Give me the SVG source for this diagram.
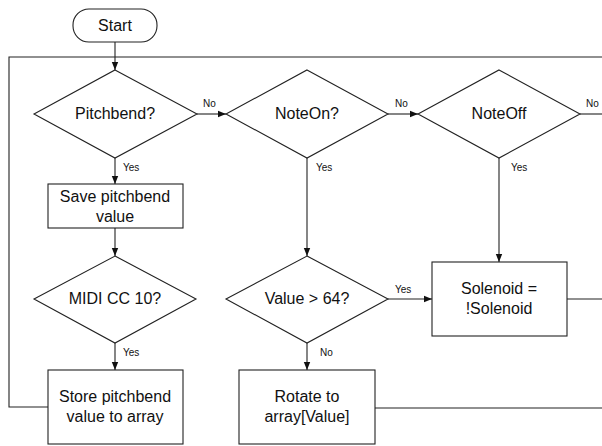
<svg xmlns="http://www.w3.org/2000/svg" width="602" height="446" viewBox="0 0 602 446">
<style>
.s{fill:#fff;stroke:#222;stroke-width:1.1}
.c{fill:none;stroke:#222;stroke-width:1.1}
.t{font-family:"Liberation Sans",Arial,sans-serif;font-size:16px;fill:#111;text-anchor:middle}
.l{font-family:"Liberation Sans",Arial,sans-serif;font-size:10px;fill:#111}
</style>
<defs>
<marker id="a" viewBox="0 0 10 10" refX="10" refY="5" markerWidth="8" markerHeight="8" markerUnits="userSpaceOnUse" orient="auto">
<path d="M0,1 L10,5 L0,9 z" fill="#111"/>
</marker>
</defs>
<rect width="602" height="446" fill="#fff"/>
<g id="connectors">
<path class="c" d="M115,42 V70" marker-end="url(#a)"/>
<path class="c" d="M197,114 H226" marker-end="url(#a)"/>
<path class="c" d="M388,114 H418" marker-end="url(#a)"/>
<path class="c" d="M580,114 H602"/>
<path class="c" d="M115,158 V184" marker-end="url(#a)"/>
<path class="c" d="M115,228 V256" marker-end="url(#a)"/>
<path class="c" d="M115,343 V370" marker-end="url(#a)"/>
<path class="c" d="M307,158 V256" marker-end="url(#a)"/>
<path class="c" d="M499,158 V262" marker-end="url(#a)"/>
<path class="c" d="M388,299 H432" marker-end="url(#a)"/>
<path class="c" d="M307,343 V370" marker-end="url(#a)"/>
<path class="c" d="M567,299 H602"/>
<path class="c" d="M375,408 H602"/>
<path class="c" d="M48,407 H9 V57 H602"/>
<text class="l" x="203" y="107">No</text>
<text class="l" x="395" y="107">No</text>
<text class="l" x="586" y="107">No</text>
<text class="l" x="123" y="171">Yes</text>
<text class="l" x="316" y="171">Yes</text>
<text class="l" x="511" y="171">Yes</text>
<text class="l" x="123" y="356">Yes</text>
<text class="l" x="395" y="293">Yes</text>
<text class="l" x="320" y="356">No</text>
</g>
<g id="start">
<rect class="s" x="73" y="9" width="84" height="33" rx="16"/>
<text class="t" x="115" y="31">Start</text>
</g>
<g id="pitchbend">
<path class="s" d="M115,70 L197,114 L115,158 L34,114 Z"/>
<text class="t" x="115" y="119">Pitchbend?</text>
</g>
<g id="noteon">
<path class="s" d="M307,70 L388,114 L307,158 L226,114 Z"/>
<text class="t" x="307" y="119">NoteOn?</text>
</g>
<g id="noteoff">
<path class="s" d="M499,70 L580,114 L499,158 L418,114 Z"/>
<text class="t" x="499" y="119">NoteOff</text>
</g>
<g id="save">
<rect class="s" x="48" y="184" width="135" height="44"/>
<text class="t" x="115" y="202">Save pitchbend</text>
<text class="t" x="115" y="222">value</text>
</g>
<g id="midicc">
<path class="s" d="M115,256 L196,299 L115,343 L34,299 Z"/>
<text class="t" x="115" y="304">MIDI CC 10?</text>
</g>
<g id="value64">
<path class="s" d="M307,256 L388,299 L307,343 L226,299 Z"/>
<text class="t" x="307" y="304">Value &gt; 64?</text>
</g>
<g id="solenoid">
<rect class="s" x="432" y="262" width="135" height="74"/>
<text class="t" x="499" y="294">Solenoid =</text>
<text class="t" x="499" y="314">!Solenoid</text>
</g>
<g id="store">
<rect class="s" x="48" y="370" width="135" height="74"/>
<text class="t" x="115" y="402">Store pitchbend</text>
<text class="t" x="115" y="422">value to array</text>
</g>
<g id="rotate">
<rect class="s" x="239" y="370" width="136" height="74"/>
<text class="t" x="307" y="402">Rotate to</text>
<text class="t" x="307" y="422">array[Value]</text>
</g>
</svg>
